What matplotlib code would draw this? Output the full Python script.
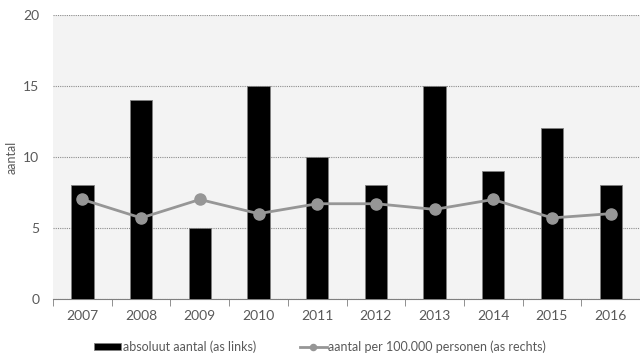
import matplotlib.pyplot as plt
import numpy as np

plt.rcParams['font.family'] = ['Lato', 'DejaVu Sans']

years = ['2007', '2008', '2009', '2010', '2011', '2012', '2013', '2014', '2015', '2016']
absoluut = [8, 14, 5, 15, 10, 8, 15, 9, 12, 8]
per_100k = [7.0, 5.7, 7.0, 6.0, 6.7, 6.7, 6.3, 7.0, 5.7, 6.0]

txt = '#595959'
x = np.arange(len(years))

fig = plt.figure(figsize=(6.4, 3.64), dpi=100)
ax = fig.add_axes([0.083, 0.179, 0.917, 0.78])
ax.set_facecolor('#f3f3f3')

bars = ax.bar(x, absoluut, width=0.38, color='black', edgecolor='#7f7f7f',
              linewidth=0.6, label='absoluut aantal (as links)', zorder=3)
ax.set_xlim(-0.5, len(years) - 0.5)
ax.set_ylim(0, 20)
ax.set_yticks([0, 5, 10, 15, 20])
ax.set_xticks(x)
ax.set_xticklabels(years)
ax.set_xticks(np.arange(-0.5, len(years)), minor=True)
ax.tick_params(axis='x', which='major', length=0, pad=8, labelsize=10, colors=txt)
ax.tick_params(axis='x', which='minor', length=5, color='#7f7f7f')
ax.tick_params(axis='y', length=0, labelsize=10, colors=txt, pad=10)
ax.grid(axis='y', linestyle=(0, (1, 1)), color='#8c8c8c', linewidth=0.8, zorder=1)
for s in ['top', 'right', 'left']:
    ax.spines[s].set_visible(False)
ax.spines['bottom'].set_color('#7f7f7f')
ax.set_ylabel('aantal', color=txt, fontsize=9)

ax2 = ax.twinx()
ax2.set_ylim(0, 20)
line, = ax2.plot(x, per_100k, color='#969696', linewidth=2, marker='o', markersize=8,
                 label='aantal per 100.000 personen (as rechts)', zorder=4)
ax2.axis('off')

fig.legend([bars, line], [bars.get_label(), line.get_label()], loc='lower center',
           bbox_to_anchor=(0.5, 0.0), ncol=2, frameon=False, fontsize=9,
           labelcolor=txt, handlelength=2.2, handleheight=0.5, handletextpad=0.1,
           columnspacing=3.5, markerscale=0.55)

fig.savefig('out.png', dpi=100)
